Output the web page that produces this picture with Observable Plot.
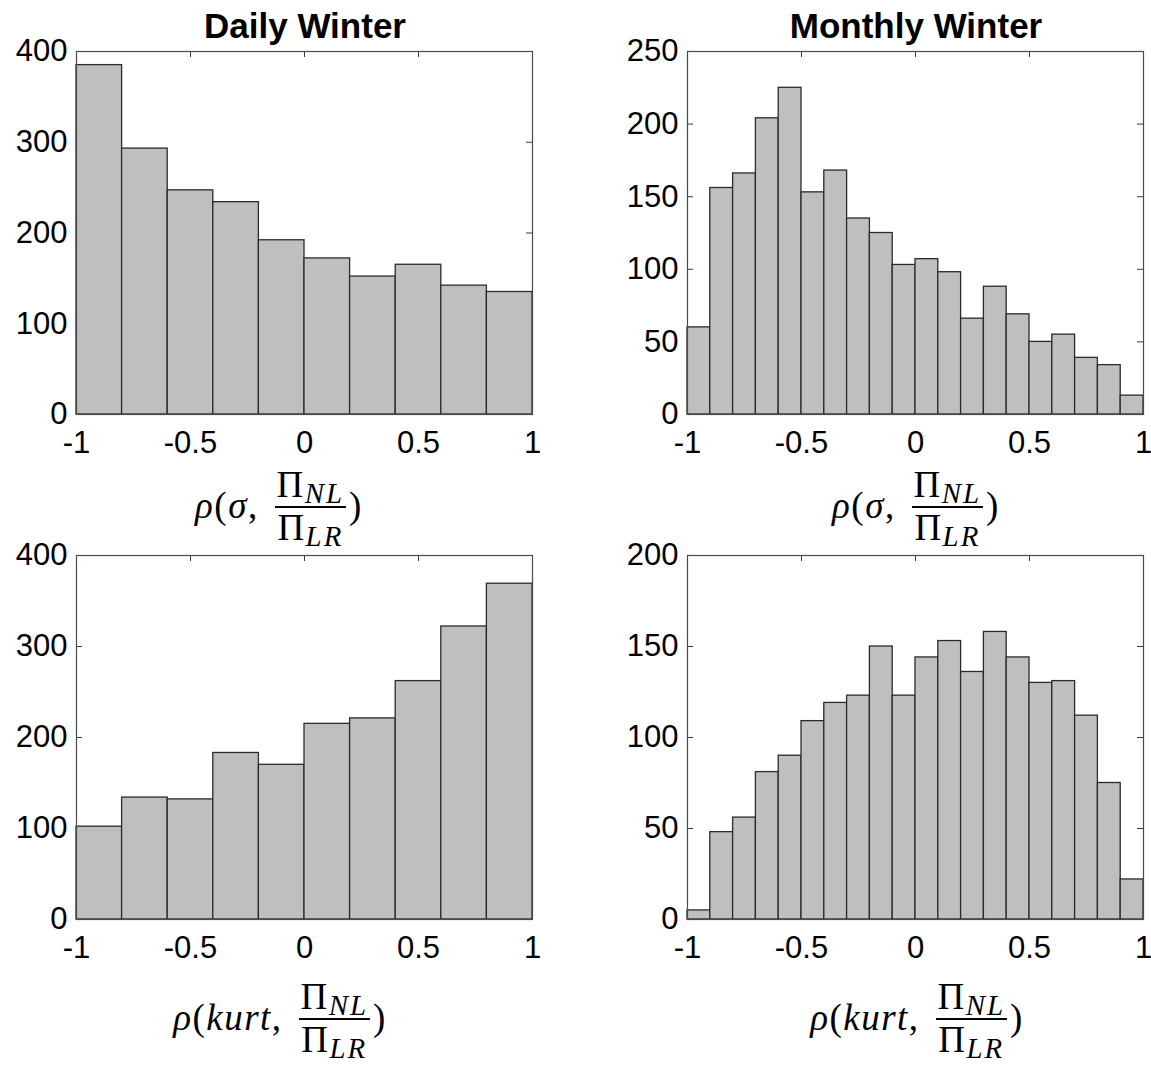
<!DOCTYPE html>
<html>
<head>
<meta charset="utf-8">
<script src="https://cdn.jsdelivr.net/npm/d3@7"></script>
<script src="https://cdn.jsdelivr.net/npm/@observablehq/plot@0.6"></script>
<style>
  html, body { margin: 0; padding: 0; background: #fff; }
  #wrap { position: relative; width: 1151px; height: 1066px; overflow: hidden; background: #fff; }
  .panel { position: absolute; }
  .title { position: absolute; font-family: "Liberation Sans", Arial, Helvetica, sans-serif; font-weight: bold; font-size: 35px; line-height: 35px; text-align: center; color: #000; white-space: nowrap; }
  .xlab { position: absolute; text-align: center; color: #000; }
  .m { font-family: "Liberation Serif", "DejaVu Serif", serif; font-size: 37px; display: inline-flex; align-items: center; white-space: nowrap; line-height: 1; letter-spacing: 1.5px; }
  .m i { font-style: italic; }
  .frac { display: inline-flex; flex-direction: column; align-items: center; margin: 0 3px 0 7px; }
  .frac .num, .frac .den { line-height: 1; padding: 0 2px; }
  .frac .bar { align-self: stretch; height: 1.6px; background: #000; margin: 3px 0 1px 0; }
  .m sub { font-size: 0.78em; font-style: italic; vertical-align: -0.22em; line-height: 0; letter-spacing: 2px; }
</style>
</head>
<body>
<div id="wrap"></div>
<script>
// ---- data ----
const edges10 = [-1, -0.8, -0.6, -0.4, -0.2, 0, 0.2, 0.4, 0.6, 0.8, 1];
const edges20 = [-1, -0.9, -0.8, -0.7, -0.6, -0.5, -0.4, -0.3, -0.2, -0.1, 0, 0.1, 0.2, 0.3, 0.4, 0.5, 0.6, 0.7, 0.8, 0.9, 1];

const dailySigma   = [385, 293, 247, 234, 192, 172, 152, 165, 142, 135];
const monthlySigma = [60, 156, 166, 204, 225, 153, 168, 135, 125, 103, 107, 98, 66, 88, 69, 50, 55, 39, 34, 13];
const dailyKurt    = [102, 134, 132, 183, 170, 215, 221, 262, 322, 369];
const monthlyKurt  = [5, 48, 56, 81, 90, 109, 119, 123, 150, 123, 144, 153, 136, 158, 144, 130, 131, 112, 75, 22];

const xTicks = [-1, -0.5, 0, 0.5, 1];
const yTicksDS = [0, 100, 200, 300, 400];
const yTicksMS = [0, 50, 100, 150, 200, 250];
const yTicksDK = [0, 100, 200, 300, 400];
const yTicksMK = [0, 50, 100, 150, 200];

const titles = ["Daily Winter", "Monthly Winter"];

// ---- layout ----
const wrap = document.getElementById("wrap");
const FONT = '"Liberation Sans", Arial, Helvetica, sans-serif';

function rowsFrom(edges, counts) {
  return counts.map((c, i) => ({x1: edges[i], x2: edges[i + 1], count: c}));
}

function panel({left, top, width, height, mL, mR, mT, mB, edges, counts, yTicks}) {
  const plotW = width - mL - mR;
  const plotH = height - mT - mB;
  const ymax = yTicks[yTicks.length - 1];
  const tickLen = 6;
  const tickColor = "#3a3a3a";
  const chart = Plot.plot({
    width, height,
    marginLeft: mL, marginRight: mR, marginTop: mT, marginBottom: mB,
    style: {background: "transparent", color: "#000", fontFamily: FONT, overflow: "visible"},
    x: {domain: [-1, 1]},
    y: {domain: [0, ymax]},
    marks: [
      // inward tick marks (drawn beneath the bars, like MATLAB's default layer)
      Plot.tickX(xTicks, {x: d => d, stroke: tickColor, insetTop: plotH - tickLen}),
      Plot.tickX(xTicks, {x: d => d, stroke: tickColor, insetBottom: plotH - tickLen}),
      Plot.tickY(yTicks, {y: d => d, stroke: tickColor, insetRight: plotW - tickLen}),
      Plot.tickY(yTicks, {y: d => d, stroke: tickColor, insetLeft: plotW - tickLen}),
      Plot.rectY(rowsFrom(edges, counts), {x1: "x1", x2: "x2", y: "count", fill: "#bfbfbf", stroke: "#2b2b2b", strokeWidth: 1.3}),
      Plot.frame({stroke: "#4a4a4a", strokeWidth: 1.2}),
      Plot.axisX(xTicks, {tickSize: 0, tickPadding: 16, tickFormat: d => String(d), fontSize: 31, fontFamily: FONT, label: null}),
      Plot.axisY(yTicks, {tickSize: 0, tickPadding: 9, tickFormat: d => String(d), fontSize: 31, fontFamily: FONT, label: null})
    ]
  });
  const div = document.createElement("div");
  div.className = "panel";
  div.style.left = left + "px";
  div.style.top = top + "px";
  div.appendChild(chart);
  wrap.appendChild(div);
}

panel({left: 0,   top: 0,   width: 575, height: 480, mL: 76,  mR: 43, mT: 51, mB: 66, edges: edges10, counts: dailySigma,   yTicks: yTicksDS});
panel({left: 575, top: 0,   width: 576, height: 480, mL: 112, mR: 8,  mT: 51, mB: 66, edges: edges20, counts: monthlySigma, yTicks: yTicksMS});
panel({left: 0,   top: 500, width: 575, height: 480, mL: 76,  mR: 43, mT: 55, mB: 61, edges: edges10, counts: dailyKurt,    yTicks: yTicksDK});
panel({left: 575, top: 500, width: 576, height: 480, mL: 112, mR: 8,  mT: 55, mB: 61, edges: edges20, counts: monthlyKurt,  yTicks: yTicksMK});

// titles
function addTitle(text, cx, top) {
  const d = document.createElement("div");
  d.className = "title";
  d.textContent = text;
  d.style.left = (cx - 250) + "px";
  d.style.width = "500px";
  d.style.top = top + "px";
  wrap.appendChild(d);
}
addTitle(titles[0], 305, 8);
addTitle(titles[1], 916, 8);

// x-axis labels (math)
function addXLabel(varHtml, cx, top) {
  const d = document.createElement("div");
  d.className = "xlab";
  d.style.left = (cx - 200) + "px";
  d.style.width = "400px";
  d.style.top = top + "px";
  d.innerHTML = '<span class="m"><i>ρ</i>(' + varHtml + ',&thinsp;<span class="frac"><span class="num">Π<sub>NL</sub></span><span class="bar"></span><span class="den">Π<sub>LR</sub></span></span>)</span>';
  wrap.appendChild(d);
}
addXLabel('<i>σ</i>', 279, 466);
addXLabel('<i>σ</i>', 916, 466);
addXLabel('<i>kurt</i>', 280, 978);
addXLabel('<i>kurt</i>', 917, 978);
</script>
</body>
</html>
